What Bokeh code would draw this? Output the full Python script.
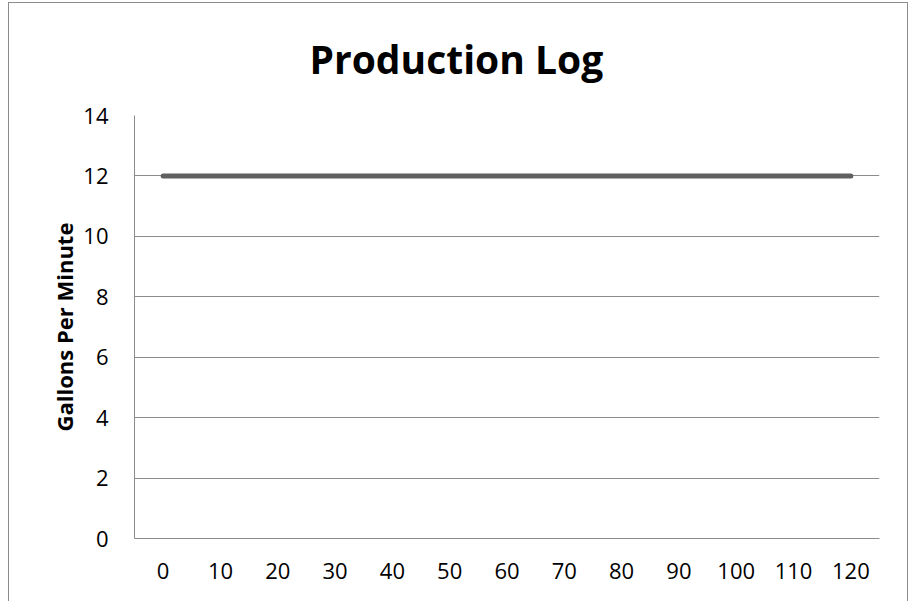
from bokeh.plotting import figure
from bokeh.models import Range1d, FixedTicker, ColumnDataSource
from bokeh.embed import file_html
from bokeh.resources import INLINE

# Data
title_text = "Production Log"
minutes = [0, 10, 20, 30, 40, 50, 60, 70, 80, 90, 100, 110, 120]
gpm = [12, 12, 12, 12, 12, 12, 12, 12, 12, 12, 12, 12, 12]
y_ticks = [0, 2, 4, 6, 8, 10, 12, 14]

FONT = "Open Sans"
GRID = "#8c8c8c"

src = ColumnDataSource(data=dict(x=minutes, y=gpm))

p = figure(width=900, height=599, output_backend="svg", toolbar_location=None,
           x_range=Range1d(-5, 125), y_range=Range1d(0, 14),
           min_border_left=125, min_border_right=30,
           min_border_top=111, min_border_bottom=64,
           title=title_text)
p.styles = {"margin-top": "2px", "margin-left": "8px",
            "border-left": "1px solid #8c8c8c",
            "border-top": "1px solid #8c8c8c", "border-right": "1px solid #8c8c8c"}

p.title.text_font = FONT
p.title.text_font_size = "39px"
p.title.text_font_style = "bold"
p.title.align = "left"
p.title.offset = 175
p.title.vertical_align = "top"
p.title.standoff = 57
p.title.text_color = "#000000"

p.outline_line_color = None
p.background_fill_color = "white"
p.border_fill_color = "white"

p.line("x", "y", source=src, line_color="#5f5f5f", line_width=5, line_cap="round")

# x axis
p.xaxis.ticker = FixedTicker(ticks=minutes)
p.xaxis.axis_line_color = GRID
p.xaxis.major_tick_line_color = None
p.xaxis.minor_tick_line_color = None
p.xaxis.major_tick_out = 0
p.xaxis.major_label_standoff = 24
p.xaxis.major_label_text_font = FONT
p.xaxis.major_label_text_font_size = "22px"
p.xaxis.major_label_text_color = "#000000"

# y axis
p.yaxis.ticker = FixedTicker(ticks=y_ticks)
p.yaxis.axis_line_color = GRID
p.yaxis.major_tick_line_color = None
p.yaxis.minor_tick_line_color = None
p.yaxis.major_tick_out = 0
p.yaxis.major_label_standoff = 26
p.yaxis.major_label_text_font = FONT
p.yaxis.major_label_text_font_size = "22px"
p.yaxis.major_label_text_color = "#000000"
p.yaxis.axis_label = "Gallons Per Minute"
p.yaxis.axis_label_text_font = FONT
p.yaxis.axis_label_text_font_size = "22px"
p.yaxis.axis_label_text_font_style = "bold"
p.yaxis.axis_label_text_color = "#000000"
p.yaxis.axis_label_standoff = 1

p.xgrid.grid_line_color = None
p.ygrid.grid_line_color = GRID
p.ygrid.grid_line_width = 1

open("out.html", "w").write(file_html(p, INLINE))
